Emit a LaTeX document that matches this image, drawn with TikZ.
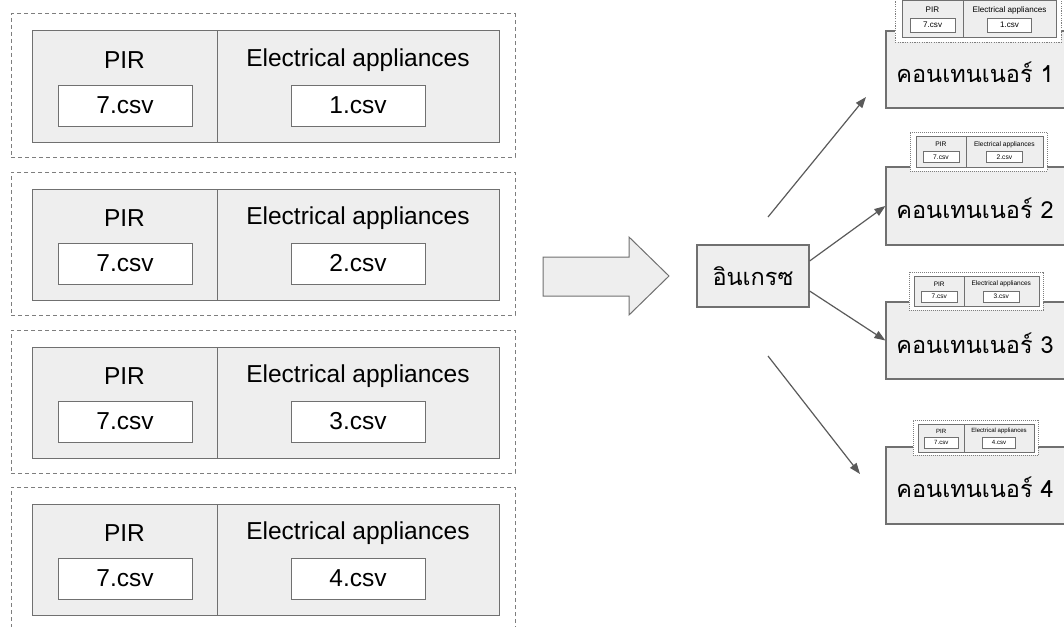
\documentclass[tikz,border=0pt]{standalone}
\usepackage{fontspec}
\setmainfont{Liberation Sans}
\newfontfamily\thaifont[Script=Thai]{Loma}
\usetikzlibrary{arrows.meta}
\definecolor{boxfill}{HTML}{EEEEEE}
\definecolor{boxline}{HTML}{707070}
\definecolor{dashline}{HTML}{7E7E7E}
\definecolor{arrowline}{HTML}{5A5A5A}
\tikzset{
  frame/.style={draw=dashline, fill=white, inner sep=0pt, minimum width=504pt, minimum height=143pt},
  half/.style={draw=boxline, fill=boxfill, inner sep=0pt, minimum height=111pt},
  filebox/.style={draw=boxline, fill=white, inner sep=0pt, minimum width=134pt, minimum height=41pt,
    font=\fontsize{24.5}{28}\selectfont},
  caption/.style={inner sep=0pt, font=\fontsize{24.5}{28}\selectfont},
  container/.style={draw=boxline, fill=boxfill, line width=1.2pt, inner sep=0pt, minimum width=190pt},
  thailabel/.style={inner sep=0pt, font=\thaifont\fontsize{23.5}{28}\selectfont},
  flow/.style={draw=arrowline, line width=1.2pt, -{Triangle[length=11pt,width=8pt]}},
}
% One sensor group: #1 name, #2 x, #3 y, #4 scale, #5 file number,
% #6 line width, #7 dash pattern of the frame
\newcommand\sensorgroup[7]{%
  \begin{scope}[shift={(#2,#3)}, scale=#4, transform shape, line width=#6]
    \node[frame, dash pattern=#7] (#1-frame) at (252,71.5) {};
    \node[half, minimum width=185pt] (#1-pir) at (113.5,72.5) {};
    \node[half, minimum width=282pt] (#1-elec) at (347,72.5) {};
    \node[caption] (#1-pirlabel) at (113.5,46) {PIR};
    \node[caption] (#1-eleclabel) at (347,46) {Electrical appliances};
    \node[filebox] (#1-pirfile) at (114,91.5) {7.csv};
    \node[filebox] (#1-elecfile) at (347,91.5) {#5.csv};
  \end{scope}}
\begin{document}
\begin{tikzpicture}[x=1pt, y=-1pt]
  \path[use as bounding box, clip] (0,0) rectangle (1064,626);

  % source groups
  \sensorgroup{g1}{11}{14}{1}{1}{1pt}{on 4pt off 3pt}
  \sensorgroup{g2}{11}{172}{1}{2}{1pt}{on 4pt off 3pt}
  \sensorgroup{g3}{11}{330}{1}{3}{1pt}{on 4pt off 3pt}
  \sensorgroup{g4}{11}{487}{1}{4}{1pt}{on 4pt off 3pt}

  % block arrow
  \draw[draw=boxline, fill=boxfill, line width=1pt]
    (543,257) -- (629,257) -- (629,237) -- (669,276) -- (629,315) -- (629,296) -- (543,296) -- cycle;

  % ingress
  \node[draw=boxline, fill=boxfill, line width=1.2pt, inner sep=0pt, minimum width=112pt, minimum height=62pt,
        font=\thaifont\fontsize{23.5}{28}\selectfont] (ing) at (753,276) {อินเกรซ};

  % containers
  \node[container, minimum height=77pt] (c1) at (981,69.5) {};
  \node[container, minimum height=78pt] (c2) at (981,206) {};
  \node[container, minimum height=77pt] (c3) at (981,340.5) {};
  \node[container, minimum height=77pt] (c4) at (981,485.5) {};

  \sensorgroup{m1}{895}{-5}{0.33}{1}{0.45pt}{on 1.2pt off 1.2pt}
  \sensorgroup{m2}{910}{132}{0.272}{2}{0.4pt}{on 1pt off 1pt}
  \sensorgroup{m3}{909}{272}{0.266}{3}{0.4pt}{on 1pt off 1pt}
  \sensorgroup{m4}{913}{420}{0.248}{4}{0.4pt}{on 1pt off 1pt}

  \node[thailabel] (c1-label) at (975,72) {คอนเทนเนอร์ 1};
  \node[thailabel] (c2-label) at (975,208) {คอนเทนเนอร์ 2};
  \node[thailabel] (c3-label) at (975,343) {คอนเทนเนอร์ 3};
  \node[thailabel] (c4-label) at (975,487) {คอนเทนเนอร์ 4};

  % routes
  \coordinate (a1s) at (768,217);
  \coordinate (a1e) at (866,97);
  \coordinate (a4s) at (768,356);
  \coordinate (a4e) at (860,474);
  \draw[flow] (a1s) -- (a1e);
  \draw[flow] ([yshift=15pt]ing.east) -- (c2.west);
  \draw[flow] ([yshift=-15pt]ing.east) -- (c3.west);
  \draw[flow] (a4s) -- (a4e);
\end{tikzpicture}
\end{document}
